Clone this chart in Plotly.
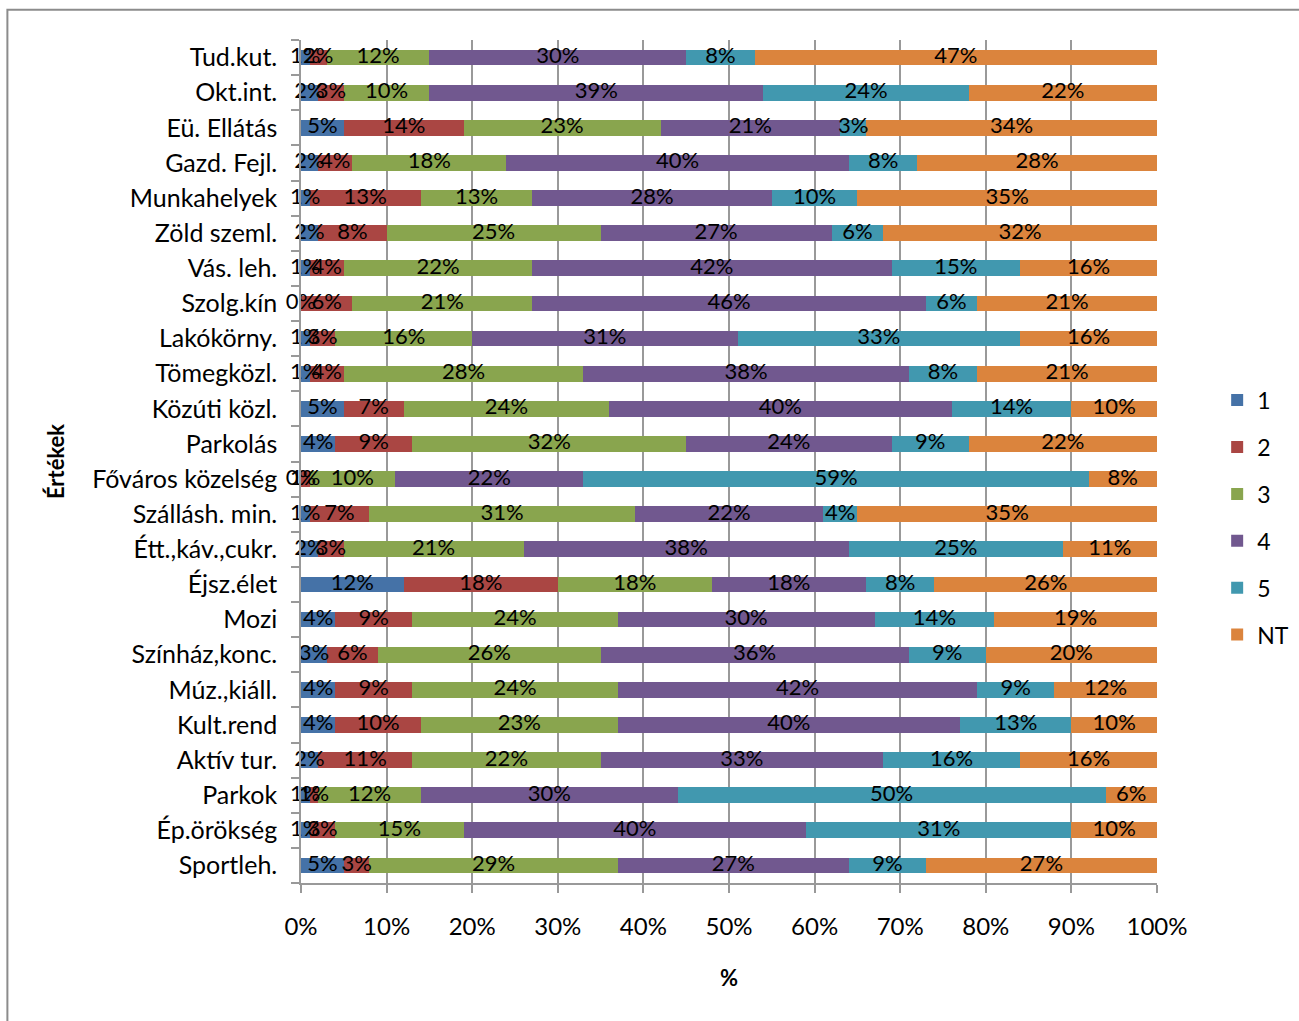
import plotly.graph_objects as go

categories = ["Tud.kut.", "Okt.int.", "Eü. Ellátás", "Gazd. Fejl.", "Munkahelyek", "Zöld szeml.",
              "Vás. leh.", "Szolg.kín", "Lakókörny.", "Tömegközl.", "Közúti közl.", "Parkolás",
              "Főváros közelség", "Szállásh. min.", "Étt.,káv.,cukr.", "Éjsz.élet", "Mozi",
              "Színház,konc.", "Múz.,kiáll.", "Kult.rend", "Aktív tur.", "Parkok", "Ép.örökség", "Sportleh."]

s1 = [1, 2, 5, 2, 1, 2, 1, 0, 1, 1, 5, 4, 0, 1, 2, 12, 4, 3, 4, 4, 2, 1, 1, 5]
s2 = [2, 3, 14, 4, 13, 8, 4, 6, 3, 4, 7, 9, 1, 7, 3, 18, 9, 6, 9, 10, 11, 1, 3, 3]
s3 = [12, 10, 23, 18, 13, 25, 22, 21, 16, 28, 24, 32, 10, 31, 21, 18, 24, 26, 24, 23, 22, 12, 15, 29]
s4 = [30, 39, 21, 40, 28, 27, 42, 46, 31, 38, 40, 24, 22, 22, 38, 18, 30, 36, 42, 40, 33, 30, 40, 27]
s5 = [8, 24, 3, 8, 10, 6, 15, 6, 33, 8, 14, 9, 59, 4, 25, 8, 14, 9, 9, 13, 16, 50, 31, 9]
snt = [47, 22, 34, 28, 35, 32, 16, 21, 16, 21, 10, 22, 8, 35, 11, 26, 19, 20, 12, 10, 16, 6, 10, 27]

series_names = ["1", "2", "3", "4", "5", "NT"]
series_values = [s1, s2, s3, s4, s5, snt]
colors = ["#4572A7", "#AA4643", "#89A54E", "#71588F", "#4198AF", "#DB843D"]

FONT = "Lato"

fig = go.Figure()
for name, vals, col in zip(series_names, series_values, colors):
    fig.add_trace(go.Bar(
        y=categories, x=vals, name=name, orientation="h",
        marker=dict(color=col, line=dict(width=0)),
        textposition="none", hoverinfo="x+name",
        legendgroup=name,
    ))

# value labels on top of all bars, centred in each stacked segment
cum = [0] * len(categories)
for name, vals in zip(series_names, series_values):
    mids = [c + v / 2 for c, v in zip(cum, vals)]
    cum = [c + v for c, v in zip(cum, vals)]
    fig.add_trace(go.Scatter(
        x=mids, y=categories, mode="text", text=[f"{v}%" for v in vals],
        textposition="middle center", textfont=dict(color="black", size=22, family=FONT),
        showlegend=False, hoverinfo="skip", cliponaxis=False,
    ))

fig.update_layout(
    barmode="stack",
    bargap=0.55,
    width=1299, height=1021,
    margin=dict(l=301, r=142, t=40, b=138),
    paper_bgcolor="white", plot_bgcolor="white",
    font=dict(family=FONT, size=20, color="black"),
    showlegend=True,
    legend=dict(xref="container", yref="container", x=0.937, y=0.493,
                xanchor="left", yanchor="middle",
                font=dict(size=23, family=FONT), traceorder="grouped",
                tracegroupgap=14, itemwidth=30, bgcolor="rgba(0,0,0,0)"),
    xaxis=dict(range=[0, 100], tickvals=list(range(0, 101, 10)),
               ticktext=[f"{v}%" for v in range(0, 101, 10)],
               showgrid=True, gridcolor="#999999", gridwidth=1.5,
               showline=True, linecolor="#999999", linewidth=1.5,
               ticks="outside", ticklen=8, tickcolor="#999999", tickwidth=1.5,
               ticklabelstandoff=13, tickfont=dict(size=24),
               zeroline=False, fixedrange=True,
               title=dict(text="<b>%</b>", font=dict(size=22), standoff=32)),
    yaxis=dict(categoryorder="array", categoryarray=categories[::-1],
               range=[-0.5, len(categories) - 0.5], autorange=False,
               showline=True, linecolor="#999999", linewidth=1.5,
               ticks="outside", ticklen=8, tickcolor="#999999", tickwidth=1.5,
               tickson="boundaries", showgrid=False,
               ticklabelstandoff=17, tickfont=dict(size=25),
               title=dict(text="<b>Értékek</b>", font=dict(size=22), standoff=22)),
    shapes=[dict(type="rect", xref="paper", yref="paper",
                 x0=-0.343, x1=1.3, y0=-0.3, y1=1.036,
                 line=dict(color="#8c8c8c", width=2), fillcolor="rgba(0,0,0,0)", layer="below")],
)

fig.write_html("out.html", config={"displayModeBar": False},
               post_script="document.body.style.margin='0';")
